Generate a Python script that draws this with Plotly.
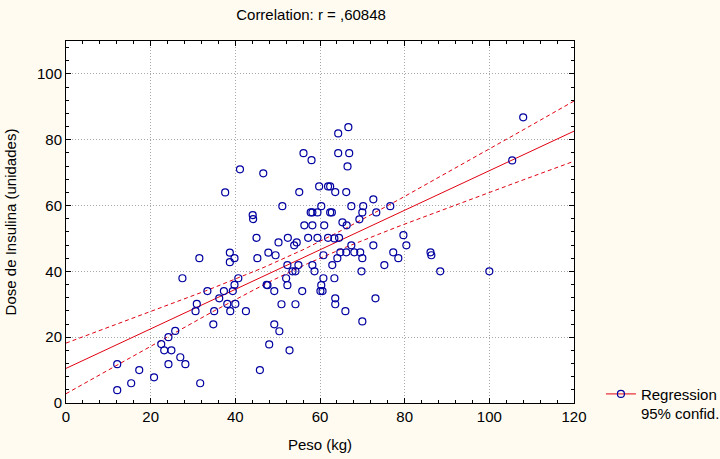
import numpy as np
import plotly.graph_objects as go

# Data
peso = [12.1, 12.1, 15.4, 17.3, 20.8, 22.5, 23.2, 24.9, 24.2, 25.8, 24.2, 27.0, 28.2, 27.5, 31.5,
        31.7, 30.9, 30.6, 33.4, 34.8, 35.0, 36.2, 37.3, 37.6, 38.1, 38.7, 38.7, 38.8, 39.4, 39.8,
        39.8, 40.0, 40.7, 41.1, 42.5, 44.1, 44.2, 45.0, 45.2, 45.8, 46.6, 47.4, 47.8, 48.0, 49.5,
        47.6, 49.2, 49.2, 50.4, 50.2, 50.9, 51.1, 52.0, 52.3, 52.3, 52.4, 52.8, 53.5, 54.2, 53.9,
        54.5, 54.2, 54.9, 55.1, 55.8, 56.1, 56.3, 57.2, 57.8, 58.2, 58.2, 58.0, 58.2, 58.7, 59.4,
        59.4, 59.8, 60.3, 60.3, 60.1, 60.6, 60.8, 60.8, 61.0, 61.9, 62.4, 61.9, 62.4, 62.8, 62.9,
        63.4, 63.4, 63.6, 63.6, 63.6, 64.1, 64.3, 64.3, 64.5, 64.8, 65.3, 66.0, 66.2, 66.2, 66.3,
        66.5, 66.7, 66.9, 67.4, 67.4, 68.1, 69.3, 69.5, 69.8, 70.0, 70.0, 70.0, 70.2, 72.6, 72.6,
        73.1, 73.3, 75.2, 76.6, 77.3, 78.5, 79.7, 80.4, 86.1, 86.3, 88.4, 100.0, 105.4, 108.0]
dose = [3.9, 11.8, 6.0, 10.0, 7.8, 17.9, 16.0, 16.0, 20.0, 21.9, 11.8, 13.9, 11.8, 37.9, 44.0,
        6.0, 30.1, 27.9, 34.0, 23.9, 27.9, 31.8, 34.0, 64.0, 30.1, 45.7, 42.8, 27.9, 34.0, 44.0,
        35.9, 30.1, 37.9, 71.0, 27.9, 57.1, 55.9, 50.2, 44.0, 10.0, 69.8, 35.9, 45.7, 17.8, 44.9,
        35.8, 34.0, 23.9, 21.8, 48.8, 30.0, 59.8, 37.9, 41.9, 35.8, 50.2, 16.0, 40.0, 40.0, 47.9,
        48.8, 30.0, 41.9, 64.1, 34.0, 75.9, 54.0, 50.2, 57.9, 57.9, 54.0, 73.8, 41.9, 40.0, 57.9,
        50.2, 65.8, 59.8, 35.8, 34.0, 34.0, 44.9, 37.9, 54.0, 65.8, 65.8, 50.2, 57.9, 57.9, 41.9,
        50.0, 37.9, 64.1, 31.8, 30.0, 44.0, 81.9, 75.9, 50.2, 45.8, 54.9, 27.9, 64.1, 45.8, 54.0,
        71.9, 83.8, 75.9, 59.8, 47.9, 45.8, 55.8, 45.8, 40.0, 57.9, 44.0, 24.8, 59.8, 61.9, 47.9,
        31.8, 57.9, 41.9, 59.8, 45.8, 44.0, 51.0, 47.9, 45.8, 44.9, 40.0, 40.0, 73.7, 86.8]

title_text = "Correlation: r = ,60848"
x_title = "Peso (kg)"
y_title = "Dose de Insulina (unidades)"
legend_name = "Regression<br>95% confid."
x_ticks = [0, 20, 40, 60, 80, 100, 120]
y_ticks = [0, 20, 40, 60, 80, 100]
t_crit = 1.978

x = np.array(peso)
y = np.array(dose)
n = len(x)
slope, intercept = np.polyfit(x, y, 1)
resid = y - (intercept + slope * x)
s = np.sqrt(np.sum(resid ** 2) / (n - 2))
xbar = x.mean()
sxx = np.sum((x - xbar) ** 2)
xf = np.linspace(0, 120, 121)
yf = intercept + slope * xf
half = t_crit * s * np.sqrt(1.0 / n + (xf - xbar) ** 2 / sxx)

RED = "#e00010"
NAVY = "#0000a0"
FONT = "Arial, Liberation Sans"

fig = go.Figure()
fig.add_trace(go.Scatter(x=xf, y=yf + half, mode="lines", line=dict(color=RED, width=1, dash="4px,3px"),
                         showlegend=False, hoverinfo="skip"))
fig.add_trace(go.Scatter(x=xf, y=yf - half, mode="lines", line=dict(color=RED, width=1, dash="4px,3px"),
                         showlegend=False, hoverinfo="skip"))
fig.add_trace(go.Scatter(x=xf, y=yf, mode="lines", line=dict(color=RED, width=1),
                         showlegend=False, hoverinfo="skip"))
fig.add_trace(go.Scatter(x=peso, y=dose, mode="markers",
                         marker=dict(symbol="circle-open", size=7, color=NAVY, line=dict(width=1.2, color=NAVY)),
                         showlegend=False))
fig.add_trace(go.Scatter(x=[None], y=[None], mode="lines+markers", name=legend_name,
                         line=dict(color=RED, width=1),
                         marker=dict(symbol="circle-open", size=7, color=NAVY, line=dict(width=1.2, color=NAVY))))

axis_common = dict(
    showline=True, linecolor="black", linewidth=1, mirror="allticks",
    ticks="inside", ticklen=5, tickcolor="black", tickwidth=1, automargin=False,
    showgrid=True, gridcolor="#a8a8a8", griddash="1px,2px", gridwidth=1,
    zeroline=False, tickfont=dict(family=FONT, size=15, color="black"),
    minor=dict(ticks="inside", ticklen=3, tickcolor="black", showgrid=False),
)

fig.update_layout(
    width=720, height=459,
    paper_bgcolor="#fffbf0", plot_bgcolor="white",
    margin=dict(l=66, r=146, t=41, b=56, autoexpand=False),
    title=dict(text=title_text, x=0.432, xanchor="center", y=0.968, yanchor="middle",
               font=dict(family=FONT, size=15, color="black")),
    xaxis=dict(range=[0, 120], tickvals=x_ticks, title=dict(text=x_title, standoff=15,
               font=dict(family=FONT, size=15, color="black")), **axis_common),
    yaxis=dict(range=[0, 110], tickvals=y_ticks, title=dict(text=y_title, standoff=16,
               font=dict(family=FONT, size=15, color="black")), **axis_common),
    legend=dict(x=1.053, xanchor="left", y=0.07, yanchor="top", bgcolor="rgba(0,0,0,0)",
                font=dict(family=FONT, size=15, color="black"), valign="top", itemwidth=30),
    showlegend=True,
)
fig.update_xaxes(minor=dict(tickvals=[v for v in range(0, 121, 4) if v % 20 != 0]))
fig.update_yaxes(minor=dict(tickvals=[v for v in range(0, 111, 4) if v % 20 != 0]))

fig.write_html("out.html", config={"displayModeBar": False},
               post_script="document.body.style.margin='0px';")
